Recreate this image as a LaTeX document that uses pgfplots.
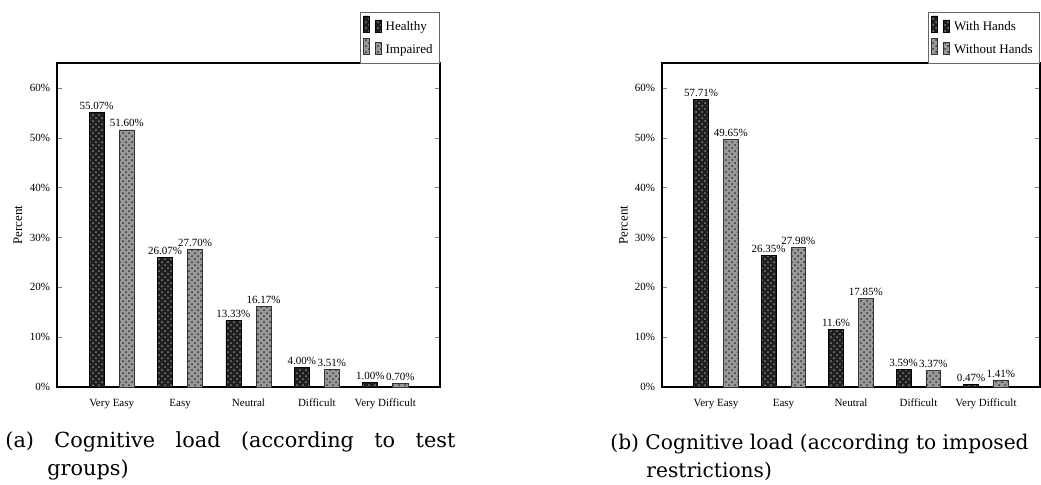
\documentclass[border=0pt]{standalone}
\usepackage{pgfplots}
\pgfplotsset{compat=1.18}
\usepackage{fontspec}
\setmainfont{DejaVu Serif}
\newfontfamily\smallfont{Liberation Serif}
\usetikzlibrary{patterns}
\pgfplotsset{
  healthy/.style={fill=black!88, draw=black, line width=0.3pt, postaction={pattern=crosshatch dots, pattern color=black!50}},
  impaired/.style={fill=black!40, draw=black!80, line width=0.3pt, postaction={pattern=crosshatch dots, pattern color=black!80}},
  myaxis/.style={
    scale only axis, height=162pt,
    anchor=south west,
    xmin=-0.8, xmax=4.8, ymin=0, ymax=65,
    xtick={0,1,2,3,4},
    xticklabels={Very Easy,Easy,Neutral,Difficult,Very Difficult},
    xtick style={draw=none},
    ytick={0,10,20,30,40,50,60},
    yticklabel={\pgfmathprintnumber{\tick}\%},
    /pgf/number format/assume math mode=true,
    major tick length=2.5pt,
    tick label style={font=\smallfont\fontsize{5.5}{6}\selectfont},
    ylabel={Percent},
    ylabel style={at={(axis description cs:-0.102,0.5)}, anchor=center, font=\smallfont\fontsize{6.5}{7}\selectfont},
    ybar, bar width=0.22,
    nodes near coords, point meta=explicit symbolic,
    every node near coord/.append style={font=\smallfont\fontsize{5.5}{6}\selectfont, inner sep=1.2pt},
    legend style={at={(axis description cs:1,1.157)}, anchor=north east, font=\smallfont\fontsize{6.5}{7.5}\selectfont, draw=black!60, inner sep=1.5pt, row sep=0pt, cells={anchor=west}},
    legend cell align=left,
    axis line style={black, line width=0.6pt},
  }
}
\begin{document}
\begin{tikzpicture}
\path[use as bounding box] (0,0) rectangle (520.5pt,242pt);
\clip (0,0) rectangle (520.5pt,242pt);
\begin{axis}[myaxis, width=191.5pt, at={(28.5pt,48.5pt)}]
\addplot[healthy, bar shift=-0.22] coordinates {(0,55.07) [55.07\%] (1,26.07) [26.07\%] (2,13.33) [13.33\%] (3,4.00) [4.00\%] (4,1.00) [1.00\%]};
\addplot[impaired, bar shift=0.22] coordinates {(0,51.60) [51.60\%] (1,27.70) [27.70\%] (2,16.17) [16.17\%] (3,3.51) [3.51\%] (4,0.70) [0.70\%]};
\legend{Healthy, Impaired}
\end{axis}
\begin{axis}[myaxis, width=189pt, at={(331pt,48.5pt)}]
\addplot[healthy, bar shift=-0.22] coordinates {(0,57.71) [57.71\%] (1,26.35) [26.35\%] (2,11.6) [11.6\%] (3,3.59) [3.59\%] (4,0.47) [0.47\%]};
\addplot[impaired, bar shift=0.22] coordinates {(0,49.65) [49.65\%] (1,27.98) [27.98\%] (2,17.85) [17.85\%] (3,3.37) [3.37\%] (4,1.41) [1.41\%]};
\legend{With Hands, Without Hands}
\end{axis}
\node[anchor=base west, inner sep=0pt, font=\fontsize{10.4}{13}\selectfont] at (2.5pt,18.5pt) {\makebox[225pt][s]{(a) Cognitive load (according to test}};
\node[anchor=base west, inner sep=0pt, font=\fontsize{10.4}{13}\selectfont] at (23.5pt,4.5pt) {groups)};
\node[anchor=base west, inner sep=0pt, font=\fontsize{10.1}{13}\selectfont] at (305pt,17.5pt) {(b) Cognitive load (according to imposed};
\node[anchor=base west, inner sep=0pt, font=\fontsize{10.1}{13}\selectfont] at (323pt,3.5pt) {restrictions)};
\end{tikzpicture}
\end{document}
